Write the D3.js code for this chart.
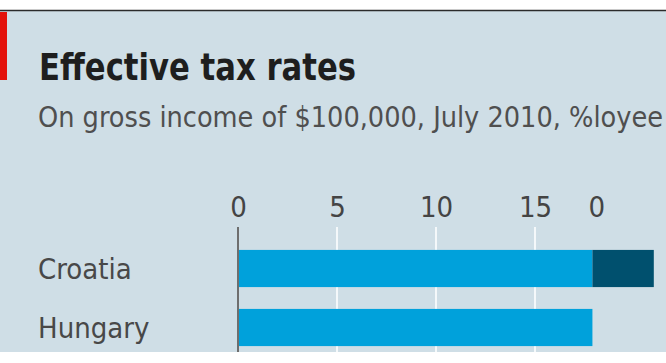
<!DOCTYPE html>
<html>
<head>
<meta charset="utf-8">
<script src="https://cdn.jsdelivr.net/npm/d3@7"></script>
<style>
  body { margin: 0; background: #fff; }
  svg { display: block; }
</style>
</head>
<body>
<div id="chart-area"></div>
<script>
// chart data
var countries = ["Croatia", "Hungary"];
var baseRate = [17.9, 17.9];     // light blue part
var extraRate = [3.1, 0];        // dark part
var tickValues = [0, 5, 10, 15, 18.1];
var tickLabels = ["0", "5", "10", "15", "0"];
var gridValues = [5, 10, 15];

var width = 666,
    height = 363;

var svg = d3.select("#chart-area").append("svg")
    .attr("width", width)
    .attr("height", height);

// panel background
svg.append("rect")
    .attr("x", 0).attr("y", 11)
    .attr("width", width).attr("height", 341)
    .attr("fill", "#cfdee6");

svg.append("line")
    .attr("x1", 0).attr("x2", width)
    .attr("y1", 10.5).attr("y2", 10.5)
    .attr("stroke", "#2b2b2b")
    .attr("stroke-width", 1.6);

// red tag
svg.append("rect")
    .attr("x", 0).attr("y", 12)
    .attr("width", 7).attr("height", 68)
    .attr("fill", "#e3120b");

svg.append("text")
    .attr("x", 39)
    .attr("y", 80)
    .attr("textLength", 317)
    .attr("lengthAdjust", "spacingAndGlyphs")
    .style("font-family", "'DejaVu Sans Condensed', 'DejaVu Sans', sans-serif")
    .style("font-stretch", "condensed")
    .style("font-weight", "bold")
    .style("font-size", "38px")
    .attr("fill", "#1e1e1e")
    .text("Effective tax rates");

svg.append("text")
    .attr("x", 38)
    .attr("y", 127)
    .attr("textLength", 625)
    .attr("lengthAdjust", "spacingAndGlyphs")
    .style("font-family", "'DejaVu Sans Condensed', 'DejaVu Sans', sans-serif")
    .style("font-stretch", "condensed")
    .style("font-size", "28px")
    .attr("fill", "#4f4f4f")
    .text("On gross income of $100,000, July 2010, %loyee");

// scales
var x = d3.scaleLinear()
    .domain([0, 20])
    .range([238, 634]);

var y = d3.scaleBand()
    .domain(countries)
    .range([239, 357])
    .paddingInner(0.37)
    .paddingOuter(0.185);

// gridlines
svg.selectAll(".grid")
    .data(gridValues)
    .enter().append("line")
    .attr("class", "grid")
    .attr("x1", function (d) { return x(d); })
    .attr("x2", function (d) { return x(d); })
    .attr("y1", 227)
    .attr("y2", 352)
    .attr("stroke", "#f4f8fa")
    .attr("stroke-width", 2);

// bars
svg.selectAll(".bar")
    .data(countries)
    .enter().append("rect")
    .attr("class", "bar")
    .attr("x", x(0))
    .attr("y", function (d) { return y(d); })
    .attr("width", function (d, i) { return x(baseRate[i]) - x(0); })
    .attr("height", y.bandwidth())
    .attr("fill", "#00a1db");

svg.selectAll(".bar2")
    .data(countries)
    .enter().append("rect")
    .attr("class", "bar2")
    .attr("x", function (d, i) { return x(baseRate[i]); })
    .attr("y", function (d) { return y(d); })
    .attr("width", function (d, i) { return x(baseRate[i] + extraRate[i]) - x(baseRate[i]); })
    .attr("height", y.bandwidth())
    .attr("fill", "#00506e");

// zero line
svg.append("line")
    .attr("x1", x(0)).attr("x2", x(0))
    .attr("y1", 227).attr("y2", 352)
    .attr("stroke", "#6e6e6e")
    .attr("stroke-width", 2);

// top axis
var xAxis = svg.append("g")
    .attr("transform", "translate(0,217)")
    .call(d3.axisTop(x)
        .tickValues(tickValues)
        .tickFormat(function (d, i) { return tickLabels[i]; })
        .tickSize(0)
        .tickPadding(0));
xAxis.select(".domain").remove();
xAxis.selectAll("text")
    .style("font-family", "'DejaVu Sans Condensed', 'DejaVu Sans', sans-serif")
    .style("font-stretch", "condensed")
    .style("font-size", "29px")
    .attr("fill", "#444");

// country labels
svg.selectAll(".label")
    .data(countries)
    .enter().append("text")
    .attr("class", "label")
    .attr("x", 38)
    .attr("y", function (d) { return y(d) + y.bandwidth() / 2; })
    .attr("dy", "0.36em")
    .style("font-family", "'DejaVu Sans Condensed', 'DejaVu Sans', sans-serif")
    .style("font-stretch", "condensed")
    .style("font-size", "29px")
    .attr("fill", "#484848")
    .text(function (d) { return d; });
</script>
</body>
</html>
